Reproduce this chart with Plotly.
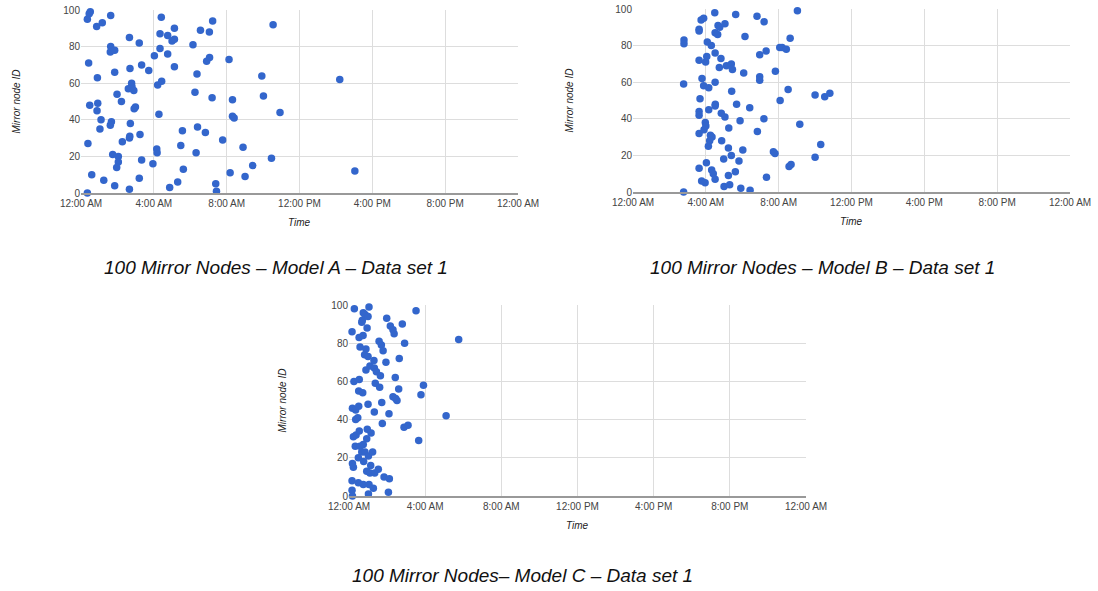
import plotly.graph_objects as go

# Hours after midnight, and mirror node IDs
a_hours = [0.35, 0.38, 0.59, 0.35, 0.51, 0.45, 0.42, 0.48, 0.86, 1.17, 1.63, 0.90, 0.92, 0.88, 1.10, 1.04,
           1.25, 1.63, 1.61, 1.85, 1.85, 1.67, 1.61, 1.74, 2.05, 2.05, 1.96, 1.85, 1.98, 2.22, 2.27, 2.66,
           2.69, 2.78, 2.80, 2.60, 2.90, 2.92, 2.99, 2.71, 2.66, 2.68, 2.66, 3.20, 3.33, 3.72, 3.24, 3.33,
           3.20, 3.95, 4.03, 4.16, 4.18, 4.28, 4.21, 4.43, 4.34, 4.34, 4.41, 4.76, 4.76, 5.00, 5.13, 5.13,
           5.13, 4.87, 5.31, 5.48, 5.57, 5.62, 6.15, 6.26, 6.32, 6.37, 6.40, 6.56, 6.83, 6.90, 7.06, 7.05,
           7.23, 7.20, 7.40, 7.44, 7.78, 8.13, 8.32, 8.32, 8.41, 8.19, 8.90, 9.01, 9.43, 9.93, 10.02, 10.46,
           10.55, 10.93, 14.21, 15.04]
a_ids = [0, 27, 10, 95, 99, 98, 71, 48, 91, 93, 97, 63, 49, 45, 40, 35,
         7, 80, 77, 78, 66, 39, 37, 21, 20, 17, 14, 4, 54, 50, 28, 85,
         68, 60, 58, 57, 56, 46, 47, 38, 30, 31, 2, 82, 70, 67, 32, 18,
         8, 16, 75, 24, 22, 43, 59, 61, 79, 87, 96, 86, 76, 83, 84, 90,
         69, 3, 6, 26, 34, 13, 81, 55, 22, 65, 36, 89, 33, 72, 74, 88,
         94, 52, 5, 1, 29, 73, 51, 42, 41, 11, 25, 9, 15, 64, 53, 19,
         92, 44, 62, 12]

b_hours = [2.78, 2.78, 2.80, 2.80, 3.63, 3.63, 3.74, 3.88, 3.63, 3.99, 4.05, 3.79, 3.88, 4.16, 4.51, 3.68,
           3.63, 3.63, 4.16, 4.52, 4.51, 3.63, 3.90, 3.97, 4.00, 4.25, 4.34, 4.21, 4.14, 3.63, 4.03, 3.77,
           3.96, 4.32, 4.41, 4.51, 4.49, 4.08, 4.30, 4.51, 4.51, 4.65, 4.67, 4.76, 5.05, 4.83, 4.74, 5.13,
           5.40, 5.46, 4.87, 4.85, 5.05, 4.98, 5.26, 5.24, 5.40, 5.24, 5.00, 5.31, 5.62, 5.42, 5.64, 5.69,
           5.82, 5.88, 6.03, 5.92, 6.08, 6.15, 6.41, 6.43, 6.81, 6.96, 6.96, 6.96, 6.83, 7.19, 7.20, 7.31,
           7.33, 7.71, 7.80, 7.82, 8.06, 8.19, 8.42, 8.08, 8.52, 8.63, 8.57, 8.68, 9.03, 9.16, 10.00, 10.00,
           10.31, 10.53, 10.81]
b_ids = [0, 59, 83, 81, 89, 88, 94, 95, 72, 71, 74, 62, 58, 57, 60, 51,
         44, 42, 45, 48, 47, 32, 34, 38, 36, 31, 30, 28, 25, 13, 16, 6,
         5, 12, 10, 7, 98, 82, 80, 76, 87, 86, 91, 90, 92, 73, 68, 69,
         70, 67, 28, 43, 41, 18, 35, 24, 20, 9, 3, 4, 11, 55, 97, 48,
         17, 39, 23, 2, 65, 85, 46, 1, 96, 75, 63, 61, 33, 40, 93, 77,
         8, 22, 21, 66, 79, 79, 78, 50, 56, 84, 14, 15, 99, 37, 53, 19,
         26, 52, 54]

c_hours = [0.28, 1.05, 0.16, 0.75, 0.84, 0.70, 0.67, 0.95, 1.00, 0.53, 0.74, 0.58, 0.89, 0.82, 1.00, 0.89,
           1.10, 1.31, 1.33, 1.44, 1.65, 0.26, 0.54, 0.51, 0.72, 1.38, 1.61, 0.18, 0.35, 0.51, 1.00, 1.33,
           1.72, 0.35, 0.46, 1.75, 0.23, 0.37, 0.54, 0.96, 1.16, 0.33, 0.58, 0.75, 0.93, 0.67, 0.84, 0.49,
           0.77, 1.02, 1.24, 0.18, 0.23, 1.14, 0.93, 1.10, 1.35, 1.54, 1.84, 2.12, 0.16, 0.49, 0.75, 1.05,
           1.28, 0.16, 0.18, 1.02, 2.07, 1.98, 2.17, 2.31, 2.37, 2.80, 1.58, 1.70, 1.79, 1.94, 2.64, 2.92,
           2.43, 2.61, 2.31, 2.45, 2.52, 2.10, 2.89, 3.10, 3.52, 3.91, 3.78, 3.66, 5.10, 5.76]
c_ids = [98, 99, 86, 96, 95, 92, 91, 88, 94, 83, 84, 78, 77, 74, 73, 66,
         68, 71, 67, 65, 63, 60, 61, 55, 54, 59, 57, 46, 45, 47, 48, 44,
         49, 40, 41, 38, 31, 32, 34, 35, 33, 26, 26, 27, 30, 23, 23, 20,
         18, 21, 23, 17, 15, 16, 13, 12, 12, 14, 10, 9, 8, 7, 6, 6,
         4, 3, 0, 1, 2, 93, 89, 87, 85, 90, 81, 79, 76, 70, 72, 80,
         62, 56, 52, 51, 50, 43, 36, 37, 97, 58, 53, 29, 42, 82]

tick_hours = [0, 4, 8, 12, 16, 20, 24]
tick_labels = ["12:00 AM", "4:00 AM", "8:00 AM", "12:00 PM", "4:00 PM", "8:00 PM", "12:00 AM"]
y_ticks = [0, 20, 40, 60, 80, 100]
captions = ["100 Mirror Nodes \u2013 Model A \u2013 Data set 1",
            "100 Mirror Nodes \u2013 Model B \u2013 Data set 1",
            "100 Mirror Nodes\u2013 Model C \u2013 Data set 1"]

W, H = 1098, 591
# plot areas in screen pixels: (x0, x1, ytop, ybottom)
areas = [(81, 518, 10, 193), (633, 1070, 9, 192), (349, 806, 305, 496)]


def fx(px):
    return px / W


def fy(py):
    return 1 - py / H


fig = go.Figure()
data = [(a_hours, a_ids), (b_hours, b_ids), (c_hours, c_ids)]
for i, (xs, ys) in enumerate(data):
    sfx = "" if i == 0 else str(i + 1)
    fig.add_trace(go.Scatter(x=xs, y=ys, mode="markers", xaxis="x" + sfx, yaxis="y" + sfx,
                             marker=dict(color="#3366cc", size=7.5, line=dict(width=0)),
                             cliponaxis=False, showlegend=False))

font_tick = dict(family="Liberation Sans, Arial, sans-serif", size=10, color="#444444")
for i, (x0, x1, yt, yb) in enumerate(areas):
    sfx = "" if i == 0 else str(i + 1)
    fig.layout["xaxis" + sfx] = dict(
        domain=[fx(x0), fx(x1)], range=[0, 24], tickvals=tick_hours, ticktext=tick_labels,
        showgrid=True, gridcolor="#dddddd", gridwidth=1, zeroline=False, automargin=False,
        showline=True, linecolor="#999999", linewidth=2, ticks="", tickfont=font_tick,
        ticklabeloverflow="allow", anchor="y" + sfx, fixedrange=True)
    fig.layout["yaxis" + sfx] = dict(
        domain=[fy(yb), fy(yt)], range=[0, 100], tickvals=y_ticks, automargin=False,
        showgrid=True, gridcolor="#dddddd", gridwidth=1, zeroline=False,
        showline=False, ticks="", tickfont=font_tick, ticklabeloverflow="allow",
        anchor="x" + sfx, fixedrange=True)

ann = []
title_font = dict(family="Liberation Sans, Arial, sans-serif", size=10, color="#222222")
# y axis titles
for (x0, x1, yt, yb), xpix in zip(areas, [16, 569, 282]):
    ann.append(dict(text="<i>Mirror node ID</i>", x=fx(xpix), y=fy((yt + yb) / 2),
                    xref="paper", yref="paper", textangle=-90, showarrow=False,
                    font=title_font, xanchor="center", yanchor="middle"))
# x axis titles
for (x0, x1, yt, yb), ypix in zip(areas, [222, 221, 525]):
    ann.append(dict(text="<i>Time</i>", x=fx((x0 + x1) / 2), y=fy(ypix),
                    xref="paper", yref="paper", showarrow=False,
                    font=title_font, xanchor="center", yanchor="middle"))
# captions
cap_font = dict(family="Liberation Sans, Arial, sans-serif", size=19, color="#111111")
for text, (cx, cy) in zip(captions, [(276, 267), (822, 267), (522, 575)]):
    ann.append(dict(text="<i>" + text + "</i>", x=fx(cx), y=fy(cy),
                    xref="paper", yref="paper", showarrow=False,
                    font=cap_font, xanchor="center", yanchor="middle"))

fig.update_layout(width=W, height=H, margin=dict(l=0, r=0, t=0, b=0, pad=0, autoexpand=False),
                  paper_bgcolor="white", plot_bgcolor="white", annotations=ann, hovermode=False)

fig.write_html("out.html", config={"displayModeBar": False, "staticPlot": True},
               post_script="document.body.style.margin='0';document.body.style.overflow='hidden';")
